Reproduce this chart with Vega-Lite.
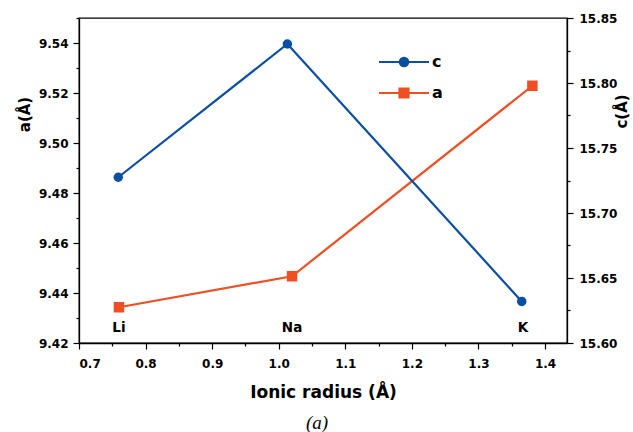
{
  "$schema": "https://vega.github.io/schema/vega-lite/v6.json",
  "width": 488,
  "height": 325,
  "autosize": {"type": "none"},
  "padding": {"left": 79, "top": 18, "right": 66, "bottom": 89},
  "background": "white",
  "config": {
    "view": {"stroke": "#000000", "strokeWidth": 1.3},
    "font": "DejaVu Sans",
    "axis": {
      "domainColor": "#000000",
      "domainWidth": 1.3,
      "tickColor": "#000000",
      "tickWidth": 1.2,
      "labelFont": "DejaVu Sans",
      "labelFontWeight": "bold",
      "labelFontSize": 12,
      "labelColor": "#000000",
      "titleFont": "DejaVu Sans",
      "titleFontWeight": "bold",
      "titleColor": "#000000",
      "grid": false
    }
  },
  "title": {
    "text": "(a)",
    "orient": "bottom",
    "anchor": "middle",
    "font": "Liberation Serif",
    "fontStyle": "italic",
    "fontWeight": "normal",
    "fontSize": 19,
    "color": "#000000",
    "offset": 14,
    "dx": -6
  },
  "datasets": {
    "a": [
      {"r": 0.76, "val": 9.4343, "series": "a"},
      {"r": 1.02, "val": 9.4467, "series": "a"},
      {"r": 1.381, "val": 9.5229, "series": "a"}
    ],
    "c": [
      {"r": 0.759, "val": 15.7275, "series": "c"},
      {"r": 1.013, "val": 15.830, "series": "c"},
      {"r": 1.365, "val": 15.632, "series": "c"}
    ],
    "labels": [
      {"r": 0.76, "val": 9.426, "label": "Li"},
      {"r": 1.02, "val": 9.426, "label": "Na"},
      {"r": 1.367, "val": 9.426, "label": "K"}
    ]
  },
  "encoding": {
    "x": {
      "field": "r",
      "type": "quantitative",
      "scale": {"domain": [0.7, 1.433], "nice": false, "zero": false},
      "axis": {
        "title": "Ionic radius (Å)",
        "titleFontSize": 17,
        "titlePadding": 15,
        "values": [0.7, 0.75, 0.8, 0.85, 0.9, 0.95, 1.0, 1.05, 1.1, 1.15, 1.2, 1.25, 1.3, 1.35, 1.4],
        "format": ".1f",
        "labelExpr": "round(datum.value*100) % 10 === 0 ? format(datum.value, '.1f') : ''",
        "tickSize": {"condition": {"test": "round(datum.value*100) % 10 !== 0", "value": 3}, "value": 6},
        "labelPadding": 9
      }
    }
  },
  "layer": [
    {
      "encoding": {
        "y": {
          "field": "val",
          "type": "quantitative",
          "scale": {"domain": [9.42, 9.55], "nice": false, "zero": false},
          "axis": {
            "orient": "left",
            "title": "a(Å)",
            "titleFontSize": 15,
            "titleBaseline": "middle",
            "titleAngle": -90,
            "titleX": -55,
            "titleY": 96,
            "values": [9.42, 9.43, 9.44, 9.45, 9.46, 9.47, 9.48, 9.49, 9.5, 9.51, 9.52, 9.53, 9.54, 9.55],
            "labelExpr": "round(datum.value*100) % 2 === 0 ? format(datum.value, '.2f') : ''",
            "tickSize": {"condition": {"test": "round(datum.value*100) % 2 !== 0", "value": 3}, "value": 6},
            "labelPadding": 5
          }
        }
      },
      "layer": [
        {
          "data": {"name": "a"},
          "mark": {"type": "line", "strokeWidth": 2.2},
          "encoding": {
            "color": {
              "field": "series",
              "type": "nominal",
              "scale": {"domain": ["c", "a"], "range": ["#0b4fa3", "#f04e23"]},
              "legend": {
                "title": null,
                "orient": "none",
                "legendX": 317,
                "legendY": 36,
                "padding": 0,
                "symbolSize": 100,
                "symbolStrokeWidth": 2.2,
                "labelOffset": 20,
                "labelFont": "DejaVu Sans",
                "labelFontWeight": "bold",
                "labelFontSize": 16,
                "labelColor": "#000000",
                "rowPadding": 13,
                "encode": {
                  "symbols": {
                    "update": {
                      "shape": {"signal": "datum.value === 'c' ? 'M-5,0L5,0M-0.85,0A0.85,0.85 0 1,1 0.85,0A0.85,0.85 0 1,1 -0.85,0Z' : 'M-5,0L5,0M-0.9,-0.9L0.9,-0.9L0.9,0.9L-0.9,0.9Z'"},
                      "fill": {"scale": "color", "field": "value"},
                      "stroke": {"scale": "color", "field": "value"},
                      "opacity": {"value": 1},
                      "fillOpacity": {"value": 1}
                    }
                  }
                }
              }
            }
          }
        },
        {
          "data": {"name": "a"},
          "mark": {"type": "point", "shape": "square", "filled": true, "size": 110, "opacity": 1},
          "encoding": {
            "color": {"field": "series", "type": "nominal"}
          }
        },
        {
          "data": {"name": "labels"},
          "mark": {"type": "text", "font": "DejaVu Sans", "fontWeight": "bold", "fontSize": 13.5, "color": "#000000", "baseline": "middle", "align": "center"},
          "encoding": {
            "text": {"field": "label"}
          }
        }
      ]
    },
    {
      "encoding": {
        "y": {
          "field": "val",
          "type": "quantitative",
          "scale": {"domain": [15.6, 15.85], "nice": false, "zero": false},
          "axis": {
            "orient": "right",
            "title": "c(Å)",
            "titleFontSize": 15,
            "titleBaseline": "middle",
            "titleAngle": -90,
            "titleX": 54,
            "titleY": 93,
            "values": [15.6, 15.625, 15.65, 15.675, 15.7, 15.725, 15.75, 15.775, 15.8, 15.825, 15.85],
            "labelExpr": "round(datum.value*1000) % 50 === 0 ? format(datum.value, '.2f') : ''",
            "tickSize": {"condition": {"test": "round(datum.value*1000) % 50 !== 0", "value": 3}, "value": 6},
            "labelPadding": 6
          }
        }
      },
      "layer": [
        {
          "data": {"name": "c"},
          "mark": {"type": "line", "strokeWidth": 2.2},
          "encoding": {
            "color": {"field": "series", "type": "nominal"}
          }
        },
        {
          "data": {"name": "c"},
          "mark": {"type": "point", "shape": "circle", "filled": true, "size": 90, "opacity": 1},
          "encoding": {
            "color": {"field": "series", "type": "nominal"}
          }
        }
      ]
    }
  ],
  "resolve": {"scale": {"y": "independent"}}
}
